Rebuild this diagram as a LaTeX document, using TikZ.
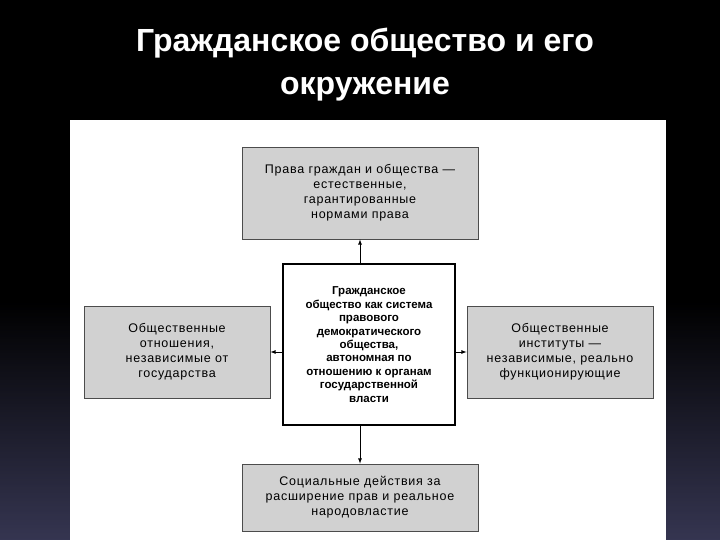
\documentclass[tikz,border=0pt]{standalone}
\usepackage{fontspec}
\setmainfont{Liberation Sans}
\begin{document}
\begin{tikzpicture}[x=1pt,y=-1pt,
  gbox/.style={draw=black!70,fill=black!18,line width=0.8pt,align=center,font=\addfontfeatures{LetterSpace=6}\fontsize{12.5}{15}\selectfont,inner sep=0pt},
  cbox/.style={draw=black,fill=white,line width=2pt,align=center,font=\bfseries\fontsize{11.5}{13.4}\selectfont,inner sep=0pt},
  arr/.style={-latex,line width=0.8pt}]
\fill[black] (0,0) rectangle (720,540);
\shade[left color=black,right color=black!40!blue!30!gray,shading angle=0,opacity=0.6] (0,300) rectangle (720,540);
\useasboundingbox (0,0) rectangle (720,540);
\node[text=white,font=\bfseries\fontsize{32}{43}\selectfont,align=center] (title) at (365,65) {Гражданское общество и его\\окружение};
\fill[white] (70,120) rectangle (666,540);
\node[gbox,minimum width=236,minimum height=92] (top) at (360,193) {Права граждан и общества —\\естественные,\\гарантированные\\нормами права};
\node[cbox,minimum width=172,minimum height=161] (c) at (369,344.5) {Гражданское\\общество как система\\правового\\демократического\\общества,\\автономная по\\отношению к органам\\государственной\\власти};
\node[gbox,minimum width=186,minimum height=92] (l) at (177,352) {Общественные\\отношения,\\независимые от\\государства};
\node[gbox,minimum width=186,minimum height=92] (r) at (560,352) {Общественные\\институты —\\независимые, реально\\функционирующие};
\node[gbox,minimum width=236,minimum height=67] (b) at (360,497.5) {Социальные действия за\\расширение прав и реальное\\народовластие};
\draw[arr] (c.north -| top.south) -- (top.south);
\draw[arr] (c.west |- l.east) -- (l.east);
\draw[arr] (c.east |- r.west) -- (r.west);
\draw[arr] (c.south -| b.north) -- (b.north);
\end{tikzpicture}
\end{document}
